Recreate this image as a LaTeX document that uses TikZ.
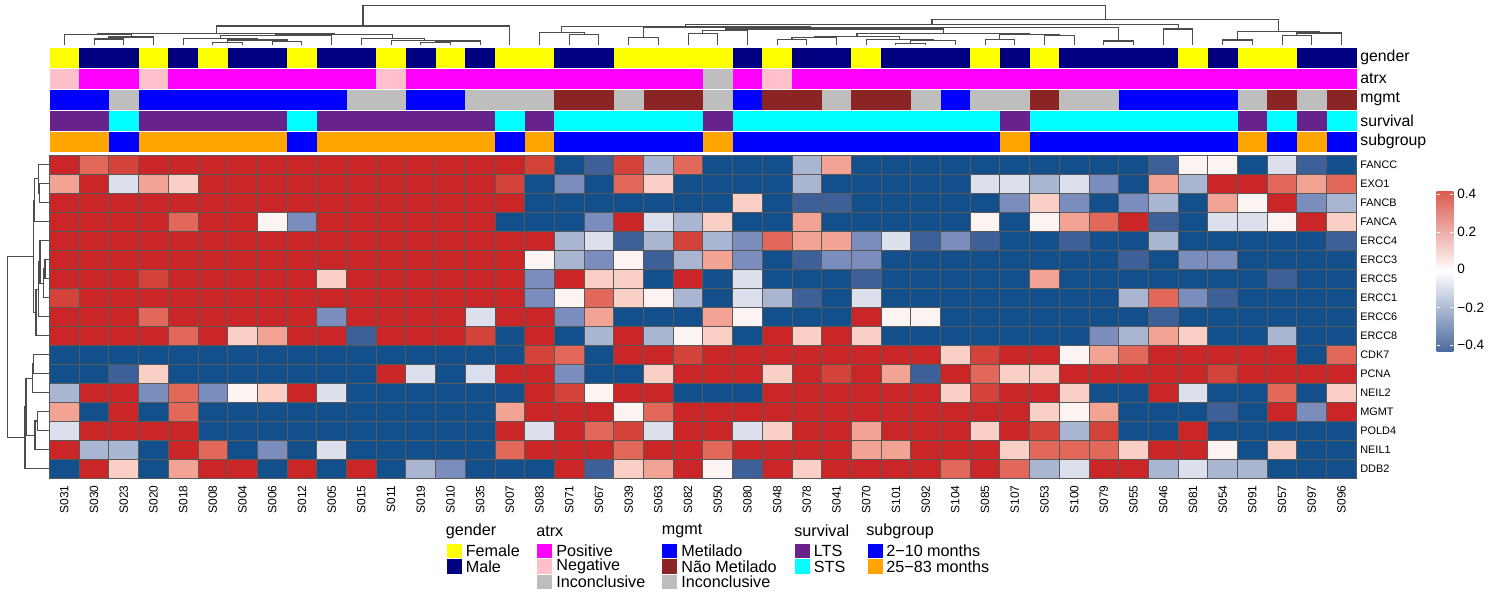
\documentclass[tikz,border=0pt]{standalone}
\usepackage{fontspec}
\setmainfont{Liberation Sans}
\usetikzlibrary{calc}

% heat colours, index = level + 5
\definecolor{hm0}{RGB}{19,79,139}
\definecolor{hm1}{RGB}{62,96,152}
\definecolor{hm2}{RGB}{122,141,188}
\definecolor{hm3}{RGB}{170,181,210}
\definecolor{hm4}{RGB}{220,224,236}
\definecolor{hm5}{RGB}{252,244,242}
\definecolor{hm6}{RGB}{250,208,198}
\definecolor{hm7}{RGB}{243,163,147}
\definecolor{hm8}{RGB}{226,105,90}
\definecolor{hm9}{RGB}{212,67,58}
\definecolor{hm10}{RGB}{202,37,39}
% annotation colours
\definecolor{cFem}{RGB}{255,255,0}
\definecolor{cMal}{RGB}{0,0,128}
\definecolor{cPos}{RGB}{255,0,255}
\definecolor{cNeg}{RGB}{255,192,203}
\definecolor{cInc}{RGB}{190,190,190}
\definecolor{cMet}{RGB}{0,0,255}
\definecolor{cNmet}{RGB}{139,37,37}
\definecolor{cLts}{RGB}{104,34,139}
\definecolor{cSts}{RGB}{0,255,255}
\definecolor{cEarly}{RGB}{0,0,255}
\definecolor{cLate}{RGB}{255,165,0}
\definecolor{cbRed}{RGB}{218,92,80}
\definecolor{cbBlue}{RGB}{76,106,158}

% dendrogram merges: name, first child, second child, height
\newcommand{\tjoin}[4]{%
  \path (0,#4) coordinate (hh);
  \draw[dend] (#2) -- (#2 |- hh) -- (#3 |- hh) -- (#3);
  \path ($(#2 |- hh)!.5!(#3 |- hh)$) coordinate (#1);}
\newcommand{\rjoin}[4]{%
  \path (#4,0) coordinate (hh);
  \draw[dend] (#2) -- (#2 -| hh) -- (#3 -| hh) -- (#3);
  \path ($(#2 -| hh)!.5!(#3 -| hh)$) coordinate (#1);}

\begin{document}
\begin{tikzpicture}[x=0.02cm,y=-0.02cm]
    \tikzstyle{dend}=[draw=black!70,line width=0.6pt]
    \tikzstyle{cell}=[draw=black!65,line width=0.5pt]
    \tikzstyle{samp}=[rotate=90,anchor=east,inner sep=0pt,font=\fontsize{6.8}{8}\selectfont]
    \tikzstyle{gene}=[anchor=west,inner sep=0pt,font=\fontsize{6.2}{7}\selectfont]
    \tikzstyle{annlab}=[anchor=west,inner sep=0pt,font=\fontsize{9}{10}\selectfont]
    \tikzstyle{legtext}=[anchor=west,inner sep=0pt,font=\fontsize{9.2}{11}\selectfont]
    \tikzstyle{legbox}=[anchor=north west,inner sep=0pt,minimum width=8.5pt,minimum height=8.1pt]
    \tikzstyle{cblab}=[anchor=west,inner sep=0pt,font=\fontsize{7.7}{9}\selectfont]
    \useasboundingbox (0,0) rectangle (1498,592);

    % annotation tracks
    \foreach \vals [count=\r from 0] in {
      {cFem,cMal,cMal,cFem,cMal,cFem,cMal,cMal,cFem,cMal,cMal,cFem,cMal,cFem,cMal,cFem,cFem,cMal,cMal,cFem,cFem,cFem,cFem,cMal,cFem,cMal,cMal,cFem,cMal,cMal,cMal,cFem,cMal,cFem,cMal,cMal,cMal,cMal,cFem,cMal,cFem,cFem,cMal,cMal},
      {cNeg,cPos,cPos,cNeg,cPos,cPos,cPos,cPos,cPos,cPos,cPos,cNeg,cPos,cPos,cPos,cPos,cPos,cPos,cPos,cPos,cPos,cPos,cInc,cPos,cNeg,cPos,cPos,cPos,cPos,cPos,cPos,cPos,cPos,cPos,cPos,cPos,cPos,cPos,cPos,cPos,cPos,cPos,cPos,cPos},
      {cMet,cMet,cInc,cMet,cMet,cMet,cMet,cMet,cMet,cMet,cInc,cInc,cMet,cMet,cInc,cInc,cInc,cNmet,cNmet,cInc,cNmet,cNmet,cInc,cMet,cNmet,cNmet,cInc,cNmet,cNmet,cInc,cMet,cInc,cInc,cNmet,cInc,cInc,cMet,cMet,cMet,cMet,cInc,cNmet,cInc,cNmet},
      {cLts,cLts,cSts,cLts,cLts,cLts,cLts,cLts,cSts,cLts,cLts,cLts,cLts,cLts,cLts,cSts,cLts,cSts,cSts,cSts,cSts,cSts,cLts,cSts,cSts,cSts,cSts,cSts,cSts,cSts,cSts,cSts,cLts,cSts,cSts,cSts,cSts,cSts,cSts,cSts,cLts,cSts,cLts,cSts},
      {cLate,cLate,cEarly,cLate,cLate,cLate,cLate,cLate,cEarly,cLate,cLate,cLate,cLate,cLate,cLate,cEarly,cLate,cEarly,cEarly,cEarly,cEarly,cEarly,cLate,cEarly,cEarly,cEarly,cEarly,cEarly,cEarly,cEarly,cEarly,cEarly,cLate,cEarly,cEarly,cEarly,cEarly,cEarly,cEarly,cEarly,cLate,cEarly,cLate,cEarly}} {
      \foreach \col [count=\c from 0] in \vals {
        \fill[fill=\col] ({49.5+29.7*\c},{47.5+21*\r}) rectangle ++(29.9,20);
      }
    }
    \foreach \t [count=\r from 0] in {gender,atrx,mgmt,survival,subgroup}
      \node[annlab] (a\t) at (1360,{57.5+21*\r}) {\t};

    % heatmap
    \foreach \vals [count=\r from 0] in {
      {5,3,4,5,5,5,5,5,5,5,5,5,5,5,5,5,4,-5,-4,4,-2,3,-5,-5,-5,-2,2,-5,-5,-5,-5,-5,-5,-5,-5,-5,-5,-4,0,0,-5,-1,-4,-5},
      {2,5,-1,2,1,5,5,5,5,5,5,5,5,5,5,4,-5,-3,-5,3,1,-5,-5,-5,-5,-2,-5,-5,-5,-5,-5,-1,-1,-2,-1,-3,-5,2,-2,5,5,3,2,3},
      {5,5,5,5,5,5,5,5,5,5,5,5,5,5,5,5,-5,-5,-5,-5,-5,-5,-5,1,-5,-4,-4,-5,-5,-5,-5,-5,-3,1,-3,-5,-3,-2,-5,2,0,5,-3,-2},
      {5,5,5,5,3,5,5,0,-3,5,5,5,5,5,5,-5,-5,-5,-3,5,-1,-2,1,-5,-5,2,-5,-5,-5,-5,-5,0,-5,0,2,3,5,-4,-5,-1,-1,0,5,1},
      {5,5,5,5,5,5,5,5,5,5,5,5,5,5,5,5,5,-2,-1,-4,-2,4,-2,-3,3,2,2,-3,-1,-4,-3,-4,-5,-5,-4,-5,-5,-2,-5,-5,-5,-5,-5,-4},
      {5,5,5,5,5,5,5,5,5,5,5,5,5,5,5,5,0,-2,-3,0,-4,-2,2,-3,-5,-4,-3,-3,-5,-5,-5,-5,-5,-5,-5,-5,-4,-5,-3,-3,-5,-5,-5,-5},
      {5,5,5,4,5,5,5,5,5,1,5,5,5,5,5,5,-3,5,1,1,-5,5,-5,-1,-5,-5,-5,-4,-5,-5,-5,-5,-5,2,-5,-5,-5,-5,-5,-5,-5,-4,-5,-5},
      {4,5,5,5,5,5,5,5,5,5,5,5,5,5,5,5,-3,0,3,1,0,-2,-5,-1,-2,-4,-5,-1,-5,-5,-5,-5,-5,-5,-5,-5,-2,3,-3,-4,-5,-5,-5,-5},
      {5,5,5,3,5,5,5,5,5,-3,5,5,5,5,-1,5,5,-3,2,-5,-5,-5,2,0,-5,-5,-5,5,0,0,-5,-5,-5,-5,-5,-5,-5,-4,-5,-5,-5,-5,-5,-5},
      {5,5,5,5,3,5,1,2,5,5,-4,5,5,5,4,-5,5,-5,-2,5,-2,0,1,-5,5,1,5,1,-5,-5,-5,-5,-5,-5,-5,-3,-2,2,1,-5,-5,-2,-5,-5},
      {-5,-5,-5,-5,-5,-5,-5,-5,-5,-5,-5,-5,-5,-5,-5,-5,4,3,-5,5,5,4,5,5,5,5,5,5,5,5,1,4,5,5,0,2,3,5,5,5,5,5,-5,3},
      {-5,-5,-4,1,-5,-5,-5,-5,-5,-5,-5,5,-1,-5,-1,5,5,-3,-5,-5,1,5,5,5,1,5,4,5,2,-4,5,3,1,1,5,5,5,5,5,4,5,5,5,5},
      {-2,5,5,-3,3,-3,0,1,5,-1,-5,-5,-5,-5,-5,-5,5,4,0,5,5,-5,-5,-5,5,5,5,5,5,5,1,4,5,5,1,-5,-5,5,-1,-5,-5,3,-5,1},
      {2,-5,5,-5,3,-5,-5,-5,-5,-5,-5,-5,-5,-5,-5,2,5,5,5,0,3,5,5,5,5,5,5,5,5,5,5,5,5,1,0,2,-5,-5,-5,-4,-5,5,-3,5},
      {-1,5,5,5,5,-5,-5,-5,-5,-5,-5,-5,-5,-5,-5,5,-1,5,3,4,-1,5,5,-1,1,5,5,2,5,5,5,1,5,4,-2,4,-5,-5,5,-5,-5,-5,-5,-5},
      {5,-2,-2,-5,5,3,-5,-3,-5,-1,-5,-5,-5,-5,-5,3,5,5,5,3,5,5,3,5,5,5,5,2,2,5,5,5,1,3,3,3,1,5,5,0,-5,1,-5,-5},
      {-5,5,1,-5,2,5,5,-5,5,-5,5,-5,-2,-3,-5,-5,-5,5,-4,1,2,5,0,-4,5,1,5,5,5,5,3,5,3,-2,-1,5,5,-2,-1,-2,-2,-5,-5,-5}} {
      \foreach \v [count=\c from 0] in \vals {
        \pgfmathtruncatemacro{\k}{\v+5}
        \draw[cell,fill=hm\k] ({49.5+29.7*\c},{155+19*\r}) rectangle ++(29.7,19);
      }
    }
    \foreach \g [count=\r from 0] in {FANCC,EXO1,FANCB,FANCA,ERCC4,ERCC3,ERCC5,ERCC1,ERCC6,ERCC8,CDK7,PCNA,NEIL2,MGMT,POLD4,NEIL1,DDB2}
      \node[gene] (g\r) at (1360,{164.5+19*\r}) {\g};
    \foreach \s [count=\c from 0] in {S031,S030,S023,S020,S018,S008,S004,S006,S012,S005,S015,S011,S019,S010,S035,S007,S083,S071,S067,S039,S063,S082,S050,S080,S048,S078,S041,S070,S101,S092,S104,S085,S107,S053,S100,S079,S055,S046,S081,S054,S091,S057,S097,S096}
      \node[samp] (s\c) at ({64.35+29.7*\c},485) {\s};

    % column dendrogram
    \foreach \i in {0,...,43}
      \coordinate (c\i) at ({64.35+29.7*\i},45);
    \tjoin{a12}{c1}{c2}{39}
    \tjoin{a13}{a12}{c3}{37}
    \tjoin{ka}{c0}{a13}{34.3}
    \tjoin{a56}{c5}{c6}{42.3}
    \tjoin{a78}{c7}{c8}{41.7}
    \tjoin{a58}{a56}{a78}{40}
    \tjoin{a48}{c4}{a58}{38.7}
    \tjoin{kb}{a48}{c9}{35.3}
    \tjoin{a1213}{c12}{c13}{42.5}
    \tjoin{a1214}{a1213}{c14}{41}
    \tjoin{a1114}{c11}{a1214}{40.3}
    \tjoin{kc}{c10}{a1114}{38.3}
    \tjoin{kbc}{kb}{kc}{34.3}
    \tjoin{k014}{ka}{kbc}{33.3}
    \tjoin{kL}{k014}{c15}{26}
    \tjoin{b1718}{c17}{c18}{34.7}
    \tjoin{ra}{c16}{b1718}{32.3}
    \tjoin{b1920}{c19}{c20}{37.7}
    \tjoin{b2122}{c21}{c22}{33.3}
    \tjoin{b2123}{b2122}{c23}{30.5}
    \tjoin{b2425}{c24}{c25}{39.3}
    \tjoin{b2426}{b2425}{c26}{37.7}
    \tjoin{b2829}{c28}{c29}{43.3}
    \tjoin{b2830}{b2829}{c30}{40.7}
    \tjoin{b2730}{c27}{b2830}{39.3}
    \tjoin{rc}{b2426}{b2730}{36.7}
    \tjoin{b3132}{c31}{c32}{39.3}
    \tjoin{b3334}{c33}{c34}{35.7}
    \tjoin{rd}{b3132}{b3334}{34.7}
    \tjoin{ru}{rc}{rd}{33.3}
    \tjoin{rv}{b2123}{ru}{29}
    \tjoin{b3536}{c35}{c36}{41}
    \tjoin{rw}{rv}{b3536}{27.7}
    \tjoin{rz}{b1920}{rw}{27.3}
    \tjoin{rx}{ra}{rz}{26.7}
    \tjoin{b3738}{c37}{c38}{29}
    \tjoin{kRA}{rx}{b3738}{24.3}
    \tjoin{b3940}{c39}{c40}{40}
    \tjoin{b4142}{c41}{c42}{35.5}
    \tjoin{b4143}{b4142}{c43}{33}
    \tjoin{kRB}{b3940}{b4143}{31.7}
    \tjoin{kR}{kRA}{kRB}{19.3}
    \tjoin{kroot}{kL}{kR}{5.7}

    % row dendrogram
    \foreach \j in {0,...,16}
      \coordinate (r\j) at (48.5,{164.5+19*\j});
    \rjoin{q12}{r1}{r2}{39.3}
    \rjoin{q02}{r0}{q12}{38.3}
    \rjoin{q03}{q02}{r3}{34.3}
    \rjoin{q56}{r5}{r6}{45}
    \rjoin{q57}{q56}{r7}{43.3}
    \rjoin{q47}{r4}{q57}{40}
    \rjoin{q48}{q47}{r8}{38.7}
    \rjoin{q49}{q48}{r9}{36}
    \rjoin{qtop}{q03}{q49}{33.3}
    \rjoin{q1011}{r10}{r11}{33.3}
    \rjoin{q1012}{q1011}{r12}{32.3}
    \rjoin{q1314}{r13}{r14}{37.3}
    \rjoin{q1315}{q1314}{r15}{35}
    \rjoin{q1015}{q1012}{q1315}{26}
    \rjoin{qbot}{q1015}{r16}{25}
    \rjoin{qroot}{qtop}{qbot}{7.3}

    % colour key
    \shade[top color=cbRed,bottom color=cbBlue,middle color=white] (1436.7,191.7) rectangle (1453.3,351);
    \foreach \t/\y [count=\i] in {0.4/194,0.2/232,0/269,−0.2/307.5,−0.4/345} {
      \draw[white,line width=0.5pt] (1436.7,\y) -- ++(3.5,0) (1453.3,\y) -- ++(-3.5,0);
      \node[cblab] (k\i) at (1457,\y) {\t};
    }

    % legend
    \node[legtext] (lgender) at (445.5,531) {gender};
    \node[legbox,fill=cFem] (bfem) at (446.5,543.5) {};
    \node[legbox,fill=cMal] (bmal) at (446.5,559) {};
    \node[legtext] (tfem) at (465.5,551) {Female};
    \node[legtext] (tmal) at (465.5,566.5) {Male};

    \node[legtext] (latrx) at (536,531) {atrx};
    \node[legbox,fill=cPos] (bpos) at (536.5,543.5) {};
    \node[legbox,fill=cNeg] (bneg) at (536.5,559) {};
    \node[legbox,fill=cInc] (bainc) at (536.5,574.5) {};
    \node[legtext] (tpos) at (556,551) {Positive};
    \node[legtext] (tneg) at (556,566.5) {Negative};
    \node[legtext] (tainc) at (556,582) {Inconclusive};

    \node[legtext] (lmgmt) at (661.5,531) {mgmt};
    \node[legbox,fill=cMet] (bmet) at (662,543.5) {};
    \node[legbox,fill=cNmet] (bnmet) at (662,559) {};
    \node[legbox,fill=cInc] (bminc) at (662,574.5) {};
    \node[legtext] (tmet) at (681,551) {Metilado};
    \node[legtext] (tnmet) at (681,566.5) {Não Metilado};
    \node[legtext] (tminc) at (681,582) {Inconclusive};

    \node[legtext] (lsurv) at (794,531) {survival};
    \node[legbox,fill=cLts] (blts) at (795,543.5) {};
    \node[legbox,fill=cSts] (bsts) at (795,559) {};
    \node[legtext] (tlts) at (813.5,551) {LTS};
    \node[legtext] (tsts) at (813.5,566.5) {STS};

    \node[legtext] (lsub) at (866,531) {subgroup};
    \node[legbox,fill=cEarly] (bearly) at (867.5,543.5) {};
    \node[legbox,fill=cLate] (blate) at (867.5,559) {};
    \node[legtext] (tearly) at (886,551) {2−10 months};
    \node[legtext] (tlate) at (886,566.5) {25−83 months};
\end{tikzpicture}
\end{document}
